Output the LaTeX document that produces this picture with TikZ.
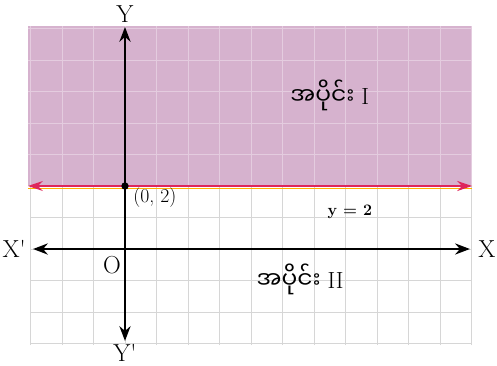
\documentclass[tikz,border=0pt]{standalone}
\usepackage{fontspec}
\newfontfamily\mmfont[Script=Myanmar]{Noto Sans Myanmar UI}
\usetikzlibrary{arrows.meta}
\definecolor{regionpink}{RGB}{214,178,206}
\definecolor{linered}{RGB}{222,38,92}
\definecolor{gridgray}{RGB}{214,214,214}
\begin{document}
\begin{tikzpicture}[x=0.9cm,y=0.9cm,
  axis/.style={line width=2pt,{Stealth[length=12pt,width=9pt]}-{Stealth[length=12pt,width=9pt]}},
  boundary/.style={line width=2.2pt,linered,{Stealth[length=12pt,width=8pt]}-{Stealth[length=12pt,width=8pt]}},
  axislabel/.style={font=\fontsize{20}{20}\selectfont,inner sep=1pt},
  region/.style={font=\fontsize{19}{19}\selectfont,inner sep=1pt}]
\useasboundingbox (-3.968,-3.714) rectangle (11.81,7.905);
% shaded half plane y >= 2 over a grid
\fill[regionpink] (-3.08,2) rectangle (11.02,7.08);
\draw[white,opacity=0.35,line width=0.5pt,step=1] (-3.08,2) grid (11.02,7.08);
\draw[gridgray,line width=0.7pt,step=1] (-3,-3.05) grid (11,2);
% boundary line y = 2
\coordinate (bl) at (-3.08,2);
\coordinate (br) at (11.02,2);
\draw[orange!60!yellow,line width=1pt] ([yshift=-1.8pt]bl) -- ([yshift=-1.8pt]br);
\draw[boundary] (bl) -- (br);
% axes
\node[axislabel] (xneg) at (-3.52,0) {X\textquotesingle};
\node[axislabel] (xpos) at (11.49,0) {X};
\node[axislabel] (ypos) at (0,7.46) {Y};
\node[axislabel,inner sep=0pt] (yneg) at (0,-3.3) {Y\textquotesingle};
\coordinate (xa) at (-2.92,0);
\coordinate (xb) at (10.95,0);
\coordinate (ya) at (0,-2.92);
\coordinate (yb) at (0,7.05);
\draw[axis] (xa) -- (xb);
\draw[axis] (ya) -- (yb);
\node[axislabel] (orig) at (-0.41,-0.5) {O};
\fill (0,2) circle (3pt);
\node[font=\fontsize{16}{16}\selectfont] (pt) at (0.95,1.62) {(0, 2)};
\node[font=\fontsize{13}{13}\selectfont\bfseries] (eq) at (7.14,1.17) {y = 2};
\node[region] (one) at (6.5,4.89) {{\mmfont အပိုင်း} I};
\node[region] (two) at (5.56,-0.95) {{\mmfont အပိုင်း} II};
\end{tikzpicture}
\end{document}
